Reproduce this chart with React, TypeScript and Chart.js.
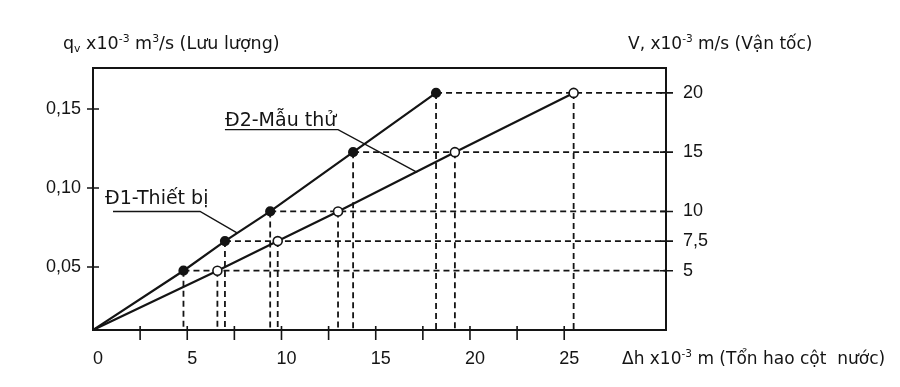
import React, { useEffect, useRef } from "react";
import { Chart, registerables } from "chart.js";
Chart.register(...registerables);

// Δh (x10^-3 m) and velocity V (x10^-3 m/s) for each series; first entry is the origin
const d1Head = [0, 4.8, 7.0, 9.4, 13.8, 18.2];
const d1Velocity = [0, 5, 7.5, 10, 15, 20];
const d2Head = [0, 6.6, 9.8, 13.0, 19.2, 25.5];
const d2Velocity = [0, 5, 7.5, 10, 15, 20];

const xTickValues = [0, 2.5, 5, 7.5, 10, 12.5, 15, 17.5, 20, 22.5, 25];
const xLabelValues = [0, 5, 10, 15, 20, 25];
const vTickValues = [5, 7.5, 10, 15, 20];
const qTickValues = [0.05, 0.1, 0.15];

const X_MIN = 0;
const X_MAX = 30.4;
const V_MIN = 0;
const V_MAX = 22.1;
const Q_MIN = 0.0101;
const Q_MAX = 0.176;

const FONT = '"Liberation Sans", Arial, sans-serif';
const WIDE_FONT = '"DejaVu Sans", "Liberation Sans", sans-serif';
const INK = "#141414";

type Seg = { t: string; sup?: boolean; sub?: boolean };
const qTitle: Seg[] = [
  { t: "q" }, { t: "v", sub: true }, { t: " x10" }, { t: "-3", sup: true },
  { t: " m" }, { t: "3", sup: true }, { t: "/s (Lưu lượng)" },
];
const vTitle: Seg[] = [
  { t: "V, x10" }, { t: "-3", sup: true }, { t: " m/s (Vận tốc)" },
];
const xTitle: Seg[] = [
  { t: "Δh x10" }, { t: "-3", sup: true }, { t: " m (Tổn hao cột  nước)" },
];

function drawRich(ctx: CanvasRenderingContext2D, segs: Seg[], x: number, y: number, size: number) {
  let cx = x;
  ctx.textAlign = "left";
  ctx.textBaseline = "alphabetic";
  for (const s of segs) {
    const fs = s.sup || s.sub ? size * 0.62 : size;
    ctx.font = `${fs}px ${WIDE_FONT}`;
    const dy = s.sup ? -size * 0.4 : s.sub ? size * 0.18 : 0;
    ctx.fillText(s.t, cx, y + dy);
    cx += ctx.measureText(s.t).width;
  }
}

const decorPlugin = {
  id: "decor",
  afterDraw(chart: any) {
    const ctx: CanvasRenderingContext2D = chart.ctx;
    const { left, right, top, bottom } = chart.chartArea;
    const xs = chart.scales.x;
    const ys = chart.scales.y2;
    const qs = chart.scales.y;
    ctx.save();
    ctx.strokeStyle = INK;
    ctx.fillStyle = INK;
    // frame
    ctx.lineWidth = 2;
    ctx.strokeRect(left, top, right - left, bottom - top);
    // tick crosses
    ctx.lineWidth = 1.6;
    ctx.beginPath();
    for (const v of qTickValues) {
      const py = qs.getPixelForValue(v);
      ctx.moveTo(left - 6, py);
      ctx.lineTo(left + 6, py);
    }
    for (const v of vTickValues) {
      const py = ys.getPixelForValue(v);
      ctx.moveTo(right - 6, py);
      ctx.lineTo(right + 7, py);
    }
    for (const v of xTickValues) {
      if (v === 0) continue;
      const px = xs.getPixelForValue(v);
      ctx.moveTo(px, bottom - 4);
      ctx.lineTo(px, bottom + 10);
    }
    ctx.stroke();

    // annotations
    ctx.lineWidth = 1.4;
    ctx.font = `19px ${WIDE_FONT}`;
    ctx.textAlign = "left";
    ctx.textBaseline = "alphabetic";
    // Đ2
    const t2x = xs.getPixelForValue(7.0);
    const t2y = ys.getPixelForValue(17.2);
    ctx.fillText("Đ2-Mẫu thử", t2x, t2y);
    ctx.beginPath();
    ctx.moveTo(t2x, ys.getPixelForValue(16.9));
    ctx.lineTo(xs.getPixelForValue(13.0), ys.getPixelForValue(16.9));
    ctx.lineTo(xs.getPixelForValue(17.2), ys.getPixelForValue(13.3));
    ctx.stroke();
    // Đ1
    const t1x = xs.getPixelForValue(0.64);
    const t1y = ys.getPixelForValue(10.6);
    ctx.fillText("Đ1-Thiết bị", t1x, t1y);
    ctx.beginPath();
    ctx.moveTo(xs.getPixelForValue(1.06), ys.getPixelForValue(10.0));
    ctx.lineTo(xs.getPixelForValue(5.68), ys.getPixelForValue(10.0));
    ctx.lineTo(xs.getPixelForValue(7.64), ys.getPixelForValue(8.2));
    ctx.stroke();

    // axis titles
    drawRich(ctx, qTitle, 63, 49, 17.5);
    drawRich(ctx, vTitle, 628, 49, 17);
    drawRich(ctx, xTitle, 622, 364, 17);
    ctx.restore();
  },
};

export default function App() {
  const ref = useRef<HTMLCanvasElement | null>(null);
  useEffect(() => {
    if (!ref.current) return;
    const dash = { borderColor: INK, borderWidth: 1.8, borderDash: [6, 4], pointRadius: 0, showLine: true, fill: false };
    const guides: any[] = [];
    d1Head.forEach((h, i) => {
      if (i === 0) return;
      guides.push({ ...dash, data: [{ x: h, y: d1Velocity[i] }, { x: X_MAX, y: d1Velocity[i] }] });
      guides.push({ ...dash, data: [{ x: h, y: d1Velocity[i] }, { x: h, y: 0 }] });
    });
    d2Head.forEach((h, i) => {
      if (i === 0) return;
      guides.push({ ...dash, data: [{ x: h, y: d2Velocity[i] }, { x: h, y: 0 }] });
    });
    const guideSets = guides.map((g) => ({ ...g, yAxisID: "y2", order: 5 }));

    const chart = new Chart(ref.current, {
      type: "scatter",
      data: {
        datasets: [
          ...guideSets,
          {
            label: "Đ1-Thiết bị",
            data: d1Head.map((h, i) => ({ x: h, y: d1Velocity[i] })),
            yAxisID: "y2",
            showLine: true,
            borderColor: INK,
            borderWidth: 2.2,
            pointRadius: d1Head.map((_, i) => (i === 0 ? 0 : 4)),
            pointBackgroundColor: INK,
            pointBorderColor: INK,
            order: 1,
          },
          {
            label: "Đ2-Mẫu thử",
            data: d2Head.map((h, i) => ({ x: h, y: d2Velocity[i] })),
            yAxisID: "y2",
            showLine: true,
            borderColor: INK,
            borderWidth: 2.2,
            pointRadius: d2Head.map((_, i) => (i === 0 ? 0 : 4.5)),
            pointBackgroundColor: "#ffffff",
            pointBorderColor: INK,
            pointBorderWidth: 1.6,
            order: 0,
          },
        ] as any,
      },
      options: {
        animation: false,
        responsive: false,
        layout: { padding: { top: 68, left: 0, right: 0, bottom: 0 } },
        plugins: { legend: { display: false }, tooltip: { enabled: false } },
        scales: {
          x: {
            type: "linear",
            min: X_MIN,
            max: X_MAX,
            grid: { display: false, drawTicks: false },
            border: { display: false },
            afterBuildTicks: (s: any) => { s.ticks = xTickValues.map((v) => ({ value: v })); },
            afterFit: (s: any) => { s.height = 57; },
            ticks: {
              autoSkip: false,
              maxRotation: 0,
              padding: 18,
              labelOffset: 5,
              color: INK,
              font: { family: FONT, size: 18 },
              callback: (v: any) => (xLabelValues.includes(Number(v)) ? String(v) : ""),
            },
          },
          y: {
            type: "linear",
            position: "left",
            min: Q_MIN,
            max: Q_MAX,
            grid: { display: false, drawTicks: false },
            border: { display: false },
            afterBuildTicks: (s: any) => { s.ticks = qTickValues.map((v) => ({ value: v })); },
            afterFit: (s: any) => { s.width = 93; },
            ticks: {
              padding: 12,
              color: INK,
              font: { family: FONT, size: 18 },
              callback: (v: any) => Number(v).toFixed(2).replace(".", ","),
            },
          },
          y2: {
            type: "linear",
            position: "right",
            min: V_MIN,
            max: V_MAX,
            grid: { display: false, drawTicks: false },
            border: { display: false },
            afterBuildTicks: (s: any) => { s.ticks = vTickValues.map((v) => ({ value: v })); },
            afterFit: (s: any) => { s.width = 234; },
            ticks: {
              padding: 17,
              color: INK,
              font: { family: FONT, size: 18 },
              callback: (v: any) => String(v).replace(".", ","),
            },
          },
        },
      } as any,
      plugins: [decorPlugin],
    });
    return () => chart.destroy();
  }, []);
  return (
    <div style={{ position: "absolute", left: 0, top: 0, width: 900, height: 387, background: "#fff" }}>
      <canvas ref={ref} width={900} height={387} style={{ width: 900, height: 387, display: "block" }} />
    </div>
  );
}
